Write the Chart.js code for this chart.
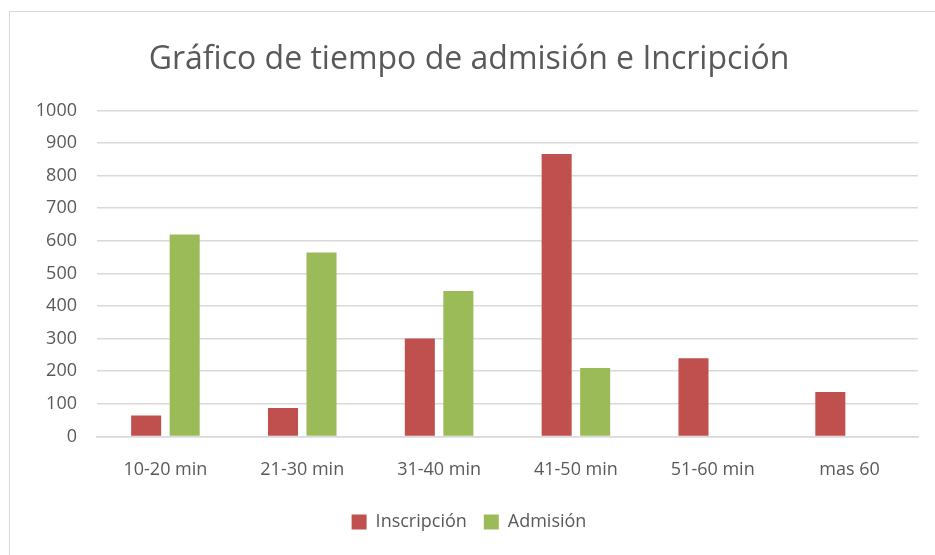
<!DOCTYPE html>
<html>
<head>
<meta charset="utf-8">
<script src="https://cdn.jsdelivr.net/npm/chart.js@4/dist/chart.umd.min.js"></script>
<style>
  body { margin: 0; background: #fff; overflow: hidden; }
  #frame { position: absolute; left: 9px; top: 11px; width: 940px; height: 560px; border: 1px solid #d9d9d9; }
  #wrap { position: absolute; left: 0; top: 0; width: 935px; height: 555px; }
</style>
</head>
<body>
<div id="frame"></div>
<div id="wrap"><canvas id="myChart"></canvas></div>
<script>
const labels = ['10-20 min', '21-30 min', '31-40 min', '41-50 min', '51-60 min', 'mas 60'];
const inscripcion = [64, 87, 300, 866, 240, 136];
const admision = [619, 564, 446, 210, null, null];

const font = "'Open Sans', 'Liberation Sans', sans-serif";
const grey = '#595959';

const config = {
  type: 'bar',
  data: {
    labels: labels,
    datasets: [{
      label: 'Inscripción',
      backgroundColor: '#C0504D',
      data: inscripcion,
      categoryPercentage: 0.563,
      barPercentage: 0.78
    }, {
      label: 'Admisión',
      backgroundColor: '#9BBB59',
      data: admision,
      categoryPercentage: 0.563,
      barPercentage: 0.78
    }]
  },
  options: {
    responsive: true,
    maintainAspectRatio: false,
    animation: false,
    layout: { padding: { left: 20, right: 17, top: 41, bottom: 14 } },
    plugins: {
      title: {
        display: true,
        text: 'Gráfico de tiempo de admisión e Incripción',
        color: grey,
        font: { family: font, size: 32, weight: 'normal' },
        padding: { top: 0, bottom: 31 }
      },
      legend: {
        position: 'bottom',
        labels: {
          color: grey,
          font: { family: font, size: 18 },
          boxWidth: 15,
          boxHeight: 15,
          padding: 17
        }
      },
      tooltip: { enabled: false }
    },
    scales: {
      x: {
        grid: { display: false },
        border: { color: '#d9d9d9', width: 1.5 },
        ticks: { color: grey, font: { family: font, size: 18 }, padding: 15 }
      },
      y: {
        min: 0,
        max: 1000,
        ticks: {
          stepSize: 100, color: grey, font: { family: font, size: 18 }, padding: 20,
          callback: function (v) { return String(v); }
        },
        grid: { color: '#d9d9d9', lineWidth: 1.5, drawTicks: false },
        border: { display: false },
        afterFit: function (axis) { axis.width = 77; }
      }
    }
  }
};

new Chart(document.getElementById('myChart'), config);
</script>
</body>
</html>
